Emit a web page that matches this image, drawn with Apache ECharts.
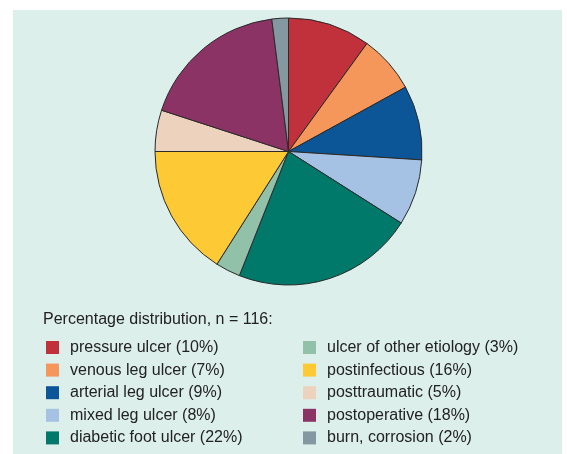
<!DOCTYPE html>
<html>
<head>
<meta charset="utf-8">
<script src="https://cdn.jsdelivr.net/npm/echarts@6/dist/echarts.min.js"></script>
<style>
  html, body { margin: 0; padding: 0; background: #ffffff; }
  #chart { width: 567px; height: 454px; }
</style>
</head>
<body>
<div id="chart"></div>
<script>
// data
const categories = [
  'pressure ulcer', 'venous leg ulcer', 'arterial leg ulcer', 'mixed leg ulcer',
  'diabetic foot ulcer', 'ulcer of other etiology', 'postinfectious',
  'posttraumatic', 'postoperative', 'burn, corrosion'
]
const percents = [10, 7, 9, 8, 22, 3, 16, 5, 18, 2]
const colors = [
  '#c0313b', '#f5965b', '#0c5698', '#a5c2e5', '#00786a',
  '#91c1a9', '#fdc935', '#edd2bd', '#8c3366', '#8498a1'
]
const titleText = 'Percentage distribution, n = 116:'

const font = '"Liberation Sans", Arial, sans-serif'

const chart = echarts.init(document.getElementById('chart'))

const pieData = categories.map((name, i) => ({
  name,
  value: percents[i],
  itemStyle: { color: colors[i] }
}))

// legend text: "name (xx%)"
const legendFormatter = (name) => {
  const i = categories.indexOf(name)
  return name + ' (' + percents[i] + '%)'
}

const legendBase = {
  orient: 'vertical',
  padding: 0,
  height: 120,
  itemWidth: 13,
  itemHeight: 13,
  itemGap: 6.6,
  icon: 'rect',
  selectedMode: false,
  formatter: legendFormatter,
  itemStyle: { borderWidth: 0 },
  textStyle: {
    fontFamily: font,
    fontSize: 16,
    color: '#222',
    padding: [0, 0, 0, 6]
  }
}

chart.setOption({
  backgroundColor: '#ffffff',
  graphic: [
    {
      type: 'rect',
      shape: { x: 13, y: 10, width: 549, height: 444 },
      style: { fill: '#dcefea' },
      z: -10
    }
  ],
  title: {
    text: titleText,
    left: 43,
    top: 312,
    padding: 0,
    textStyle: {
      fontFamily: font,
      fontSize: 16,
      fontWeight: 'normal',
      color: '#222'
    }
  },
  legend: [
    Object.assign({}, legendBase, {
      left: 46,
      top: 339.5,
      data: categories.slice(0, 5)
    }),
    Object.assign({}, legendBase, {
      left: 303,
      top: 339.5,
      data: categories.slice(5)
    })
  ],
  series: [
    {
      type: 'pie',
      center: [288.5, 151.5],
      radius: 133.5,
      startAngle: 90,
      clockwise: true,
      animation: false,
      silent: true,
      label: { show: false },
      labelLine: { show: false },
      itemStyle: { borderColor: '#2a2a2a', borderWidth: 1 },
      data: pieData
    }
  ]
})
</script>
</body>
</html>
